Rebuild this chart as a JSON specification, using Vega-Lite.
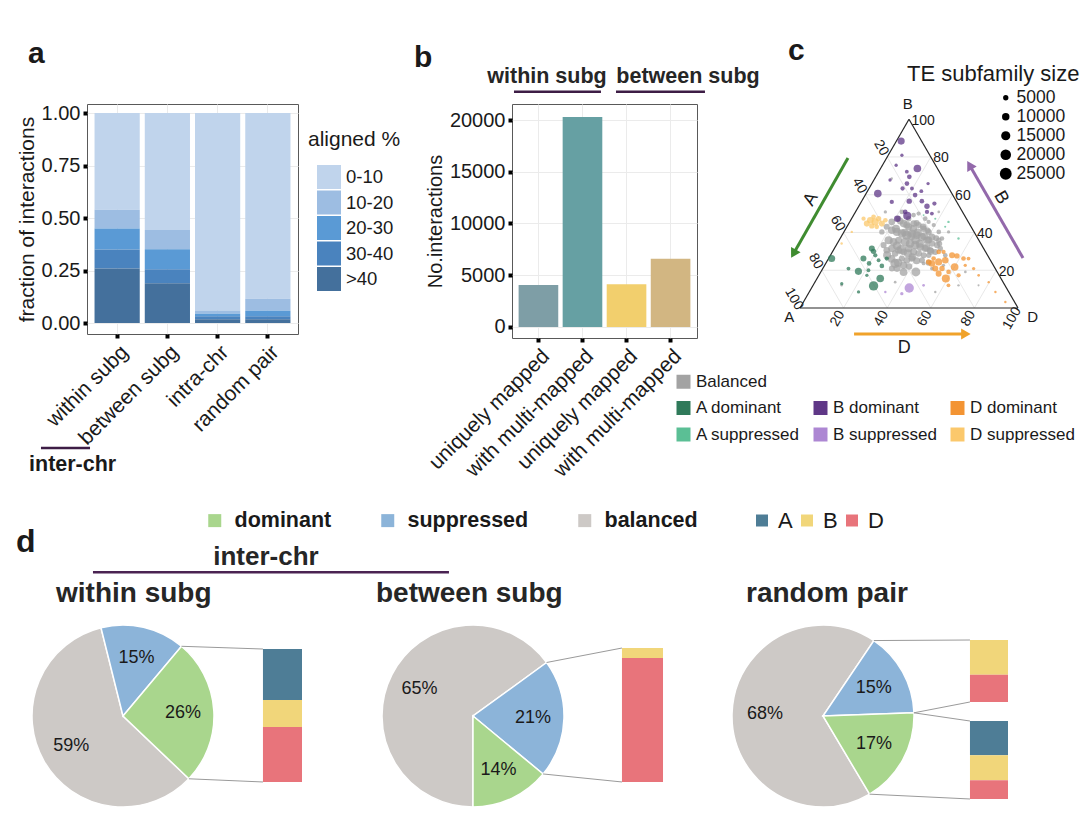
{
 "$schema": "https://vega.github.io/schema/vega-lite/v6.json",
 "background": "#ffffff",
 "padding": {"left": 15, "top": 35, "right": 2, "bottom": 2},
 "config": {
  "font": "Liberation Sans",
  "view": {"stroke": null},
  "axis": {"labelFont": "Liberation Sans", "titleFont": "Liberation Sans", "labelColor": "#1a1a1a", "titleColor": "#1a1a1a"},
  "legend": {"labelFont": "Liberation Sans", "titleFont": "Liberation Sans", "labelColor": "#1a1a1a", "titleColor": "#1a1a1a"},
  "text": {"font": "Liberation Sans", "color": "#1a1a1a"}
 },
 "columns": 1,
 "align": "none",
 "spacing": 28,
 "resolve": {"scale": {"color": "independent", "size": "independent", "theta": "independent"}, "legend": {"color": "independent", "size": "independent"}},
 "concat": [
  {
   "spacing": 0,
   "bounds": "flush",
   "resolve": {"scale": {"color": "independent", "size": "independent", "theta": "independent"}, "legend": {"color": "independent", "size": "independent"}},
   "hconcat": [
    {
     "width": 55, "height": 10,
     "data": {"values": []},
     "mark": {"type": "point"},
     "encoding": {}
    },
    {
     "width": 211, "height": 230,
     "view": {"stroke": "#595959", "strokeWidth": 1},
     "resolve": {"scale": {"x": "independent"}},
     "layer": [
      {
       "data": {"values": [
        {"group": "within subg", "aligned": "0-10", "frac": 0.46},
        {"group": "within subg", "aligned": "10-20", "frac": 0.09},
        {"group": "within subg", "aligned": "20-30", "frac": 0.10},
        {"group": "within subg", "aligned": "30-40", "frac": 0.09},
        {"group": "within subg", "aligned": ">40", "frac": 0.26},
        {"group": "between subg", "aligned": "0-10", "frac": 0.557},
        {"group": "between subg", "aligned": "10-20", "frac": 0.092},
        {"group": "between subg", "aligned": "20-30", "frac": 0.095},
        {"group": "between subg", "aligned": "30-40", "frac": 0.066},
        {"group": "between subg", "aligned": ">40", "frac": 0.19},
        {"group": "intra-chr", "aligned": "0-10", "frac": 0.94},
        {"group": "intra-chr", "aligned": "10-20", "frac": 0.016},
        {"group": "intra-chr", "aligned": "20-30", "frac": 0.012},
        {"group": "intra-chr", "aligned": "30-40", "frac": 0.014},
        {"group": "intra-chr", "aligned": ">40", "frac": 0.018},
        {"group": "random pair", "aligned": "0-10", "frac": 0.884},
        {"group": "random pair", "aligned": "10-20", "frac": 0.057},
        {"group": "random pair", "aligned": "20-30", "frac": 0.027},
        {"group": "random pair", "aligned": "30-40", "frac": 0.014},
        {"group": "random pair", "aligned": ">40", "frac": 0.018}
       ]},
       "mark": {"type": "bar"},
       "encoding": {
        "x": {"field": "group", "type": "nominal", "sort": ["within subg", "between subg", "intra-chr", "random pair"],
              "scale": {"paddingInner": 0.1, "paddingOuter": 0.15},
              "axis": {"title": null, "labelAngle": -45, "labelAlign": "right", "labelBaseline": "top", "labelFontSize": 21, "labelPadding": 3, "labelLimit": 300,
                       "tickColor": "#000000", "tickWidth": 4, "tickSize": 4, "domain": false, "grid": true, "gridColor": "#ebebeb", "gridWidth": 1, "bandPosition": 0.5}},
        "y": {"field": "frac", "type": "quantitative", "stack": "zero",
              "scale": {"domain": [-0.052, 1.043], "nice": false, "zero": false},
              "axis": {"title": "fraction of interactions", "titleFontSize": 21, "titleFontWeight": "normal", "titlePadding": 4,
                       "labelFontSize": 20, "labelPadding": 3, "tickColor": "#000000", "tickWidth": 4, "tickSize": 4, "domain": false,
                       "grid": true, "gridColor": "#ebebeb",
                       "values": [0, 0.125, 0.25, 0.375, 0.5, 0.625, 0.75, 0.875, 1],
                       "labelExpr": "indexof([0,0.25,0.5,0.75,1], datum.value) >= 0 ? format(datum.value, '.2f') : ''",
                       "tickOpacity": {"condition": {"test": "indexof([0,0.25,0.5,0.75,1], datum.value) < 0", "value": 0}, "value": 1},
                       "gridWidth": {"condition": {"test": "indexof([0,0.25,0.5,0.75,1], datum.value) < 0", "value": 0.6}, "value": 1.1}}},
        "color": {"field": "aligned", "type": "nominal",
                  "scale": {"domain": ["0-10", "10-20", "20-30", "30-40", ">40"], "range": ["#c0d4ec", "#9dbde2", "#5a9ad5", "#4a83be", "#44709c"]},
                  "legend": {"orient": "none", "legendX": 221, "legendY": 25, "title": "aligned %", "titleFontSize": 21, "titleFontWeight": "normal", "titlePadding": 15,
                             "symbolType": "square", "symbolSize": 576, "symbolStrokeWidth": 0, "symbolOffset": 9, "labelFontSize": 18.5, "labelOffset": 5, "rowPadding": 1.5}},
        "order": {"field": "aligned", "sort": "descending"}
       }
      },
      {
       "data": {"values": [{}]},
       "layer": [
        {"mark": {"type": "text", "text": "a", "fontSize": 30, "fontWeight": "bold", "align": "left", "baseline": "alphabetic"},
         "encoding": {"x": {"datum": -0.774, "type": "quantitative", "scale": {"domain": [0.4, 4.6], "nice": false, "zero": false}, "axis": null},
                      "y": {"datum": 1.238, "type": "quantitative"}}},
        {"mark": {"type": "text", "text": "inter-chr", "fontSize": 21.5, "fontWeight": "bold", "align": "left", "baseline": "alphabetic"},
         "encoding": {"x": {"datum": -0.754, "type": "quantitative", "scale": {"domain": [0.4, 4.6], "nice": false, "zero": false}, "axis": null},
                      "y": {"datum": -0.705, "type": "quantitative"}}},
        {"mark": {"type": "rule", "color": "#3d1d45", "strokeWidth": 2.5},
         "encoding": {"x": {"datum": -0.516, "type": "quantitative", "scale": {"domain": [0.4, 4.6], "nice": false, "zero": false}, "axis": null},
                      "x2": {"datum": 0.46},
                      "y": {"datum": -0.595, "type": "quantitative"}}}
       ]
      }
     ]
    },
    {
     "width": 214, "height": 10,
     "data": {"values": []},
     "mark": {"type": "point"},
     "encoding": {}
    },
    {
     "width": 185, "height": 234,
     "view": {"stroke": "#595959", "strokeWidth": 1},
     "resolve": {"scale": {"x": "independent"}},
     "layer": [
      {
       "data": {"values": [
        {"cat": "within|uniquely mapped", "n": 4060},
        {"cat": "within|with multi-mapped", "n": 20290},
        {"cat": "between|uniquely mapped", "n": 4130},
        {"cat": "between|with multi-mapped", "n": 6600}
       ]},
       "mark": {"type": "bar"},
       "encoding": {
        "x": {"field": "cat", "type": "nominal", "sort": null,
              "scale": {"paddingInner": 0.1, "paddingOuter": 0.15},
              "axis": {"title": null, "labelExpr": "split(datum.value, '|')[1]", "labelAngle": -45, "labelAlign": "right", "labelBaseline": "top", "labelFontSize": 21, "labelPadding": 3, "labelLimit": 300,
                       "tickColor": "#000000", "tickWidth": 4, "tickSize": 4, "domain": false, "grid": true, "gridColor": "#ebebeb", "gridWidth": 1, "bandPosition": 0.5}},
        "y": {"field": "n", "type": "quantitative",
              "scale": {"domain": [-1063, 21546], "nice": false, "zero": false},
              "axis": {"title": "No.interactions", "titleFontSize": 20, "titleFontWeight": "normal", "titlePadding": 4,
                       "labelFontSize": 20, "labelPadding": 3, "tickColor": "#000000", "tickWidth": 4, "tickSize": 4, "domain": false,
                       "grid": true, "gridColor": "#ebebeb",
                       "values": [0, 2500, 5000, 7500, 10000, 12500, 15000, 17500, 20000],
                       "labelExpr": "datum.value % 5000 == 0 ? format(datum.value, 'd') : ''",
                       "tickOpacity": {"condition": {"test": "datum.value % 5000 != 0", "value": 0}, "value": 1},
                       "gridWidth": {"condition": {"test": "datum.value % 5000 != 0", "value": 0.6}, "value": 1.1}}},
        "color": {"field": "cat", "type": "nominal", "sort": null,
                  "scale": {"domain": ["within|uniquely mapped", "within|with multi-mapped", "between|uniquely mapped", "between|with multi-mapped"],
                            "range": ["#7e9ea6", "#66a0a3", "#f2cf6d", "#d2b682"]},
                  "legend": null}
       }
      },
      {
       "data": {"values": [{}]},
       "layer": [
        {"mark": {"type": "text", "text": "b", "fontSize": 30, "fontWeight": "bold", "align": "left", "baseline": "alphabetic"},
         "encoding": {"x": {"datum": -1.825, "type": "quantitative", "scale": {"domain": [0.4, 4.6], "nice": false, "zero": false}, "axis": null},
                      "y": {"datum": 25121, "type": "quantitative"}}},
        {"mark": {"type": "text", "text": "within subg", "fontSize": 21.5, "fontWeight": "bold", "align": "center", "baseline": "alphabetic", "color": "#262626"},
         "encoding": {"x": {"datum": 1.195, "type": "quantitative", "scale": {"domain": [0.4, 4.6], "nice": false, "zero": false}, "axis": null},
                      "y": {"datum": 23575, "type": "quantitative"}}},
        {"mark": {"type": "text", "text": "between subg", "fontSize": 21.5, "fontWeight": "bold", "align": "center", "baseline": "alphabetic", "color": "#262626"},
         "encoding": {"x": {"datum": 4.395, "type": "quantitative", "scale": {"domain": [0.4, 4.6], "nice": false, "zero": false}, "axis": null},
                      "y": {"datum": 23575, "type": "quantitative"}}},
        {"mark": {"type": "rule", "color": "#3d1d45", "strokeWidth": 2.5},
         "encoding": {"x": {"datum": 0.445, "type": "quantitative", "scale": {"domain": [0.4, 4.6], "nice": false, "zero": false}, "axis": null},
                      "x2": {"datum": 2.42},
                      "y": {"datum": 22734, "type": "quantitative"}}},
        {"mark": {"type": "rule", "color": "#3d1d45", "strokeWidth": 2.5},
         "encoding": {"x": {"datum": 2.761, "type": "quantitative", "scale": {"domain": [0.4, 4.6], "nice": false, "zero": false}, "axis": null},
                      "x2": {"datum": 4.781},
                      "y": {"datum": 22734, "type": "quantitative"}}}
       ]
      }
     ]
    },
    {
     "width": 103, "height": 10,
     "data": {"values": []},
     "mark": {"type": "point"},
     "encoding": {}
    },
    {
     "width": 218, "height": 204,
     "data": {"values": [{}]},
     "layer": [
      {
       "data": {"values": [
        {"axis": "A", "v": 20}, {"axis": "A", "v": 40}, {"axis": "A", "v": 60}, {"axis": "A", "v": 80},
        {"axis": "B", "v": 20}, {"axis": "B", "v": 40}, {"axis": "B", "v": 60}, {"axis": "B", "v": 80},
        {"axis": "D", "v": 20}, {"axis": "D", "v": 40}, {"axis": "D", "v": 60}, {"axis": "D", "v": 80}
       ]},
       "transform": [
        {"calculate": "datum.axis == 'B' ? datum.v / 2 : (datum.axis == 'D' ? datum.v : 100 - datum.v)", "as": "xa"},
        {"calculate": "datum.axis == 'B' ? datum.v * sqrt(3) / 2 : 0", "as": "ya"},
        {"calculate": "datum.axis == 'B' ? 100 - datum.v / 2 : (datum.axis == 'D' ? (100 + datum.v) / 2 : (100 - datum.v) / 2)", "as": "xb"},
        {"calculate": "datum.axis == 'B' ? datum.v * sqrt(3) / 2 : (100 - datum.v) * sqrt(3) / 2", "as": "yb"}
       ],
       "mark": {"type": "rule", "color": "#e2e2e2", "strokeWidth": 0.8},
       "encoding": {
        "x": {"field": "xa", "type": "quantitative", "scale": {"domain": [0, 100], "nice": false, "zero": false}, "axis": null},
        "y": {"field": "ya", "type": "quantitative", "scale": {"domain": [0, 93.58], "nice": false, "zero": false}, "axis": null},
        "x2": {"field": "xb"},
        "y2": {"field": "yb"}
       }
      },
      {
       "data": {"values": [{"axis": "A", "v": 0}, {"axis": "B", "v": 0}, {"axis": "D", "v": 0}]},
       "transform": [
        {"calculate": "datum.axis == 'B' ? datum.v / 2 : (datum.axis == 'D' ? datum.v : 100 - datum.v)", "as": "xa"},
        {"calculate": "datum.axis == 'B' ? datum.v * sqrt(3) / 2 : 0", "as": "ya"},
        {"calculate": "datum.axis == 'B' ? 100 - datum.v / 2 : (datum.axis == 'D' ? (100 + datum.v) / 2 : (100 - datum.v) / 2)", "as": "xb"},
        {"calculate": "datum.axis == 'B' ? datum.v * sqrt(3) / 2 : (100 - datum.v) * sqrt(3) / 2", "as": "yb"}
       ],
       "mark": {"type": "rule", "color": "#262626", "strokeWidth": 1.2},
       "encoding": {
        "x": {"field": "xa", "type": "quantitative", "axis": null},
        "y": {"field": "ya", "type": "quantitative", "axis": null},
        "x2": {"field": "xb"},
        "y2": {"field": "yb"}
       }
      },
      {
       "data": {"values": [
        {"cls": "Balanced", "B": 45.6, "D": 19.3, "size": 7800},
        {"cls": "Balanced", "B": 47.3, "D": 21.5, "size": 6500},
        {"cls": "Balanced", "B": 44.7, "D": 25.2, "size": 10400},
        {"cls": "Balanced", "B": 43.0, "D": 28.3, "size": 9100},
        {"cls": "Balanced", "B": 44.7, "D": 29.8, "size": 7800},
        {"cls": "Balanced", "B": 43.9, "D": 32.5, "size": 6500},
        {"cls": "Balanced", "B": 42.0, "D": 35.7, "size": 7800},
        {"cls": "Balanced", "B": 40.3, "D": 38.9, "size": 6500},
        {"cls": "Balanced", "B": 37.6, "D": 41.7, "size": 9100},
        {"cls": "Balanced", "B": 41.2, "D": 21.5, "size": 10400},
        {"cls": "Balanced", "B": 40.3, "D": 24.3, "size": 11700},
        {"cls": "Balanced", "B": 39.5, "D": 27.0, "size": 13000},
        {"cls": "Balanced", "B": 38.6, "D": 29.7, "size": 15600},
        {"cls": "Balanced", "B": 39.5, "D": 31.6, "size": 11700},
        {"cls": "Balanced", "B": 38.6, "D": 34.3, "size": 10400},
        {"cls": "Balanced", "B": 37.6, "D": 37.1, "size": 11700},
        {"cls": "Balanced", "B": 35.9, "D": 40.3, "size": 10400},
        {"cls": "Balanced", "B": 34.2, "D": 43.4, "size": 7800},
        {"cls": "Balanced", "B": 33.3, "D": 46.2, "size": 6500},
        {"cls": "Balanced", "B": 35.9, "D": 22.7, "size": 11700},
        {"cls": "Balanced", "B": 35.0, "D": 25.4, "size": 10400},
        {"cls": "Balanced", "B": 35.9, "D": 27.3, "size": 9100},
        {"cls": "Balanced", "B": 35.0, "D": 30.7, "size": 14300},
        {"cls": "Balanced", "B": 34.2, "D": 33.4, "size": 13000},
        {"cls": "Balanced", "B": 33.3, "D": 36.2, "size": 11700},
        {"cls": "Balanced", "B": 32.3, "D": 39.0, "size": 10400},
        {"cls": "Balanced", "B": 31.5, "D": 41.7, "size": 9100},
        {"cls": "Balanced", "B": 30.6, "D": 44.4, "size": 7800},
        {"cls": "Balanced", "B": 29.7, "D": 47.2, "size": 6500},
        {"cls": "Balanced", "B": 31.5, "D": 48.6, "size": 5200},
        {"cls": "Balanced", "B": 31.5, "D": 26.4, "size": 10400},
        {"cls": "Balanced", "B": 30.6, "D": 29.9, "size": 9100},
        {"cls": "Balanced", "B": 29.7, "D": 32.7, "size": 7800},
        {"cls": "Balanced", "B": 31.5, "D": 34.1, "size": 10400},
        {"cls": "Balanced", "B": 29.7, "D": 37.3, "size": 9100},
        {"cls": "Balanced", "B": 28.9, "D": 40.0, "size": 7800},
        {"cls": "Balanced", "B": 27.9, "D": 42.8, "size": 6500},
        {"cls": "Balanced", "B": 27.9, "D": 45.1, "size": 5200},
        {"cls": "Balanced", "B": 23.6, "D": 31.8, "size": 15600},
        {"cls": "Balanced", "B": 22.6, "D": 36.2, "size": 10400},
        {"cls": "Balanced", "B": 19.1, "D": 43.6, "size": 14300},
        {"cls": "Balanced", "B": 20.9, "D": 31.7, "size": 6500},
        {"cls": "Balanced", "B": 25.3, "D": 36.4, "size": 7800},
        {"cls": "Balanced", "B": 30.6, "D": 24.5, "size": 7800},
        {"cls": "Balanced", "B": 33.3, "D": 21.7, "size": 6500},
        {"cls": "Balanced", "B": 40.3, "D": 17.4, "size": 5200},
        {"cls": "Balanced", "B": 43.0, "D": 18.3, "size": 6500},
        {"cls": "Balanced", "B": 50.9, "D": 21.3, "size": 3900},
        {"cls": "Balanced", "B": 47.3, "D": 26.2, "size": 5200},
        {"cls": "Balanced", "B": 27.9, "D": 52.7, "size": 3900},
        {"cls": "Balanced", "B": 36.8, "D": 46.7, "size": 3900},
        {"cls": "Balanced", "B": 40.3, "D": 43.5, "size": 3900},
        {"cls": "Balanced", "B": 43.9, "D": 39.4, "size": 3250},
        {"cls": "Balanced", "B": 45.6, "D": 36.2, "size": 3250},
        {"cls": "Balanced", "B": 47.3, "D": 33.8, "size": 3900},
        {"cls": "Balanced", "B": 50.0, "D": 29.4, "size": 3250},
        {"cls": "Balanced", "B": 49.2, "D": 27.5, "size": 3900},
        {"cls": "Balanced", "B": 22.6, "D": 54.5, "size": 1950},
        {"cls": "Balanced", "B": 23.6, "D": 44.9, "size": 2600},
        {"cls": "Balanced", "B": 20.9, "D": 50.1, "size": 2600},
        {"cls": "Balanced", "B": 12.0, "D": 13.1, "size": 1040},
        {"cls": "Balanced", "B": 13.7, "D": 36.8, "size": 1300},
        {"cls": "Balanced", "B": 8.5, "D": 57.8, "size": 1040},
        {"cls": "Balanced", "B": 12.0, "D": 66.7, "size": 1040},
        {"cls": "Balanced", "B": 12.0, "D": 75.9, "size": 780},
        {"cls": "Balanced", "B": 19.1, "D": 66.3, "size": 1300},
        {"cls": "Balanced", "B": 40.3, "D": 48.0, "size": 1950},
        {"cls": "Balanced", "B": 50.9, "D": 38.2, "size": 1300},
        {"cls": "Balanced", "B": 68.6, "D": 7.8, "size": 1040},
        {"cls": "Balanced", "B": 50.9, "D": 13.7, "size": 1950},
        {"cls": "Balanced", "B": 26.2, "D": 38.2, "size": 7800},
        {"cls": "Balanced", "B": 26.2, "D": 33.6, "size": 6500},
        {"cls": "Balanced", "B": 25.3, "D": 43.3, "size": 6500},
        {"cls": "Balanced", "B": 28.9, "D": 29.2, "size": 7800},
        {"cls": "Balanced", "B": 35.9, "D": 45.7, "size": 5200},
        {"cls": "Balanced", "B": 42.0, "D": 23.0, "size": 11700},
        {"cls": "Balanced", "B": 40.0, "D": 28.0, "size": 10400},
        {"cls": "Balanced", "B": 38.0, "D": 32.0, "size": 11700},
        {"cls": "Balanced", "B": 36.0, "D": 35.0, "size": 13000},
        {"cls": "Balanced", "B": 34.0, "D": 38.0, "size": 11700},
        {"cls": "Balanced", "B": 32.0, "D": 42.0, "size": 10400},
        {"cls": "Balanced", "B": 30.0, "D": 45.0, "size": 9100},
        {"cls": "Balanced", "B": 44.0, "D": 27.0, "size": 9100},
        {"cls": "Balanced", "B": 42.0, "D": 31.0, "size": 10400},
        {"cls": "Balanced", "B": 40.0, "D": 34.0, "size": 11700},
        {"cls": "Balanced", "B": 38.0, "D": 38.0, "size": 10400},
        {"cls": "Balanced", "B": 36.0, "D": 41.0, "size": 9100},
        {"cls": "Balanced", "B": 33.0, "D": 28.0, "size": 13000},
        {"cls": "Balanced", "B": 31.0, "D": 31.0, "size": 14300},
        {"cls": "Balanced", "B": 29.0, "D": 35.0, "size": 11700},
        {"cls": "Balanced", "B": 27.0, "D": 38.0, "size": 10400},
        {"cls": "Balanced", "B": 25.0, "D": 41.0, "size": 9100},
        {"cls": "Balanced", "B": 28.0, "D": 26.0, "size": 11700},
        {"cls": "Balanced", "B": 26.0, "D": 29.0, "size": 10400},
        {"cls": "Balanced", "B": 24.0, "D": 33.0, "size": 11700},
        {"cls": "Balanced", "B": 22.0, "D": 39.0, "size": 7800},
        {"cls": "Balanced", "B": 21.0, "D": 34.0, "size": 9100},
        {"cls": "Balanced", "B": 46.0, "D": 23.0, "size": 7800},
        {"cls": "Balanced", "B": 45.0, "D": 31.0, "size": 6500},
        {"cls": "Balanced", "B": 43.0, "D": 35.0, "size": 7800},
        {"cls": "Balanced", "B": 41.0, "D": 38.0, "size": 6500},
        {"cls": "Balanced", "B": 37.0, "D": 44.0, "size": 6500},
        {"cls": "Balanced", "B": 34.0, "D": 47.0, "size": 5200},
        {"cls": "Balanced", "B": 24.0, "D": 47.0, "size": 6500},
        {"cls": "Balanced", "B": 19.0, "D": 38.0, "size": 10400},
        {"cls": "B dominant", "B": 88.4, "D": 2.2, "size": 9100},
        {"cls": "B dominant", "B": 73.9, "D": 16.9, "size": 10400},
        {"cls": "B dominant", "B": 60.6, "D": 5.4, "size": 10400},
        {"cls": "B dominant", "B": 48.8, "D": 24.8, "size": 11700},
        {"cls": "B dominant", "B": 47.3, "D": 21.0, "size": 7800},
        {"cls": "B dominant", "B": 53.9, "D": 31.3, "size": 5200},
        {"cls": "B dominant", "B": 69.5, "D": 15.4, "size": 3900},
        {"cls": "B dominant", "B": 65.9, "D": 16.1, "size": 3900},
        {"cls": "B dominant", "B": 63.3, "D": 15.4, "size": 3250},
        {"cls": "B dominant", "B": 59.8, "D": 22.9, "size": 3900},
        {"cls": "B dominant", "B": 56.6, "D": 21.8, "size": 5200},
        {"cls": "B dominant", "B": 56.6, "D": 27.6, "size": 3900},
        {"cls": "B dominant", "B": 55.3, "D": 34.0, "size": 3250},
        {"cls": "B dominant", "B": 75.6, "D": 6.3, "size": 1950},
        {"cls": "B dominant", "B": 72.2, "D": 12.9, "size": 2600},
        {"cls": "B dominant", "B": 63.3, "D": 19.7, "size": 2600},
        {"cls": "B dominant", "B": 56.2, "D": 14.0, "size": 3250},
        {"cls": "B dominant", "B": 50.9, "D": 22.8, "size": 3900},
        {"cls": "B dominant", "B": 50.9, "D": 32.8, "size": 3250},
        {"cls": "B dominant", "B": 50.0, "D": 35.5, "size": 2600},
        {"cls": "B dominant", "B": 61.9, "D": 24.7, "size": 2600},
        {"cls": "B dominant", "B": 65.9, "D": 25.8, "size": 1950},
        {"cls": "B dominant", "B": 80.9, "D": 6.3, "size": 1950},
        {"cls": "B dominant", "B": 67.8, "D": 7.4, "size": 1950},
        {"cls": "B suppressed", "B": 10.6, "D": 44.8, "size": 15600},
        {"cls": "B suppressed", "B": 7.6, "D": 42.9, "size": 1950},
        {"cls": "B suppressed", "B": 12.0, "D": 50.7, "size": 1300},
        {"cls": "B suppressed", "B": 8.5, "D": 34.9, "size": 1040},
        {"cls": "A dominant", "B": 26.2, "D": 1.4, "size": 9100},
        {"cls": "A dominant", "B": 19.4, "D": 17.1, "size": 9100},
        {"cls": "A dominant", "B": 11.7, "D": 27.9, "size": 15600},
        {"cls": "A dominant", "B": 15.6, "D": 29.0, "size": 10400},
        {"cls": "A dominant", "B": 26.2, "D": 16.0, "size": 6500},
        {"cls": "A dominant", "B": 31.5, "D": 17.2, "size": 6500},
        {"cls": "A dominant", "B": 30.0, "D": 18.7, "size": 5200},
        {"cls": "A dominant", "B": 23.6, "D": 19.9, "size": 3900},
        {"cls": "A dominant", "B": 22.3, "D": 26.4, "size": 3900},
        {"cls": "A dominant", "B": 26.2, "D": 26.7, "size": 3250},
        {"cls": "A dominant", "B": 27.9, "D": 20.6, "size": 3250},
        {"cls": "A dominant", "B": 20.9, "D": 11.8, "size": 2600},
        {"cls": "A dominant", "B": 12.9, "D": 12.7, "size": 1950},
        {"cls": "A dominant", "B": 8.5, "D": 22.6, "size": 1950},
        {"cls": "A dominant", "B": 20.0, "D": 21.4, "size": 2600},
        {"cls": "A dominant", "B": 25.3, "D": 23.4, "size": 2600},
        {"cls": "A dominant", "B": 17.3, "D": 22.0, "size": 1950},
        {"cls": "A suppressed", "B": 45.6, "D": 45.3, "size": 1040},
        {"cls": "A suppressed", "B": 43.0, "D": 45.1, "size": 780},
        {"cls": "A suppressed", "B": 36.8, "D": 54.3, "size": 1040},
        {"cls": "A suppressed", "B": 47.3, "D": 38.4, "size": 780},
        {"cls": "A suppressed", "B": 49.2, "D": 32.1, "size": 650},
        {"cls": "D dominant", "B": 23.6, "D": 48.7, "size": 7800},
        {"cls": "D dominant", "B": 24.4, "D": 51.4, "size": 9100},
        {"cls": "D dominant", "B": 25.3, "D": 54.0, "size": 7800},
        {"cls": "D dominant", "B": 21.7, "D": 60.1, "size": 10400},
        {"cls": "D dominant", "B": 15.6, "D": 59.1, "size": 11700},
        {"cls": "D dominant", "B": 18.2, "D": 54.5, "size": 6500},
        {"cls": "D dominant", "B": 27.9, "D": 55.8, "size": 6500},
        {"cls": "D dominant", "B": 27.6, "D": 58.2, "size": 5200},
        {"cls": "D dominant", "B": 26.2, "D": 61.9, "size": 3900},
        {"cls": "D dominant", "B": 20.9, "D": 51.6, "size": 6500},
        {"cls": "D dominant", "B": 24.4, "D": 46.8, "size": 5200},
        {"cls": "D dominant", "B": 20.9, "D": 54.7, "size": 5200},
        {"cls": "D dominant", "B": 19.1, "D": 58.6, "size": 3900},
        {"cls": "D dominant", "B": 17.3, "D": 64.1, "size": 3250},
        {"cls": "D dominant", "B": 26.2, "D": 64.2, "size": 2600},
        {"cls": "D dominant", "B": 22.6, "D": 64.5, "size": 1950},
        {"cls": "D dominant", "B": 20.9, "D": 69.2, "size": 1950},
        {"cls": "D dominant", "B": 17.3, "D": 73.3, "size": 1300},
        {"cls": "D dominant", "B": 13.7, "D": 79.7, "size": 1040},
        {"cls": "D dominant", "B": 8.5, "D": 85.4, "size": 1040},
        {"cls": "D dominant", "B": 3.2, "D": 92.6, "size": 1040},
        {"cls": "D dominant", "B": 12.0, "D": 62.1, "size": 2600},
        {"cls": "D dominant", "B": 29.7, "D": 48.8, "size": 3900},
        {"cls": "D dominant", "B": 29.7, "D": 51.0, "size": 3250},
        {"cls": "D dominant", "B": 26.2, "D": 48.2, "size": 3900},
        {"cls": "D suppressed", "B": 46.5, "D": 9.0, "size": 7800},
        {"cls": "D suppressed", "B": 45.6, "D": 11.7, "size": 9100},
        {"cls": "D suppressed", "B": 44.7, "D": 15.2, "size": 6500},
        {"cls": "D suppressed", "B": 44.7, "D": 8.3, "size": 6500},
        {"cls": "D suppressed", "B": 43.5, "D": 11.2, "size": 5200},
        {"cls": "D suppressed", "B": 47.3, "D": 12.4, "size": 5200},
        {"cls": "D suppressed", "B": 43.0, "D": 13.7, "size": 3900},
        {"cls": "D suppressed", "B": 46.5, "D": 15.9, "size": 3900},
        {"cls": "D suppressed", "B": 47.3, "D": 5.5, "size": 3250},
        {"cls": "D suppressed", "B": 48.3, "D": 9.6, "size": 3900},
        {"cls": "D suppressed", "B": 34.2, "D": 2.0, "size": 1040},
        {"cls": "D suppressed", "B": 40.3, "D": 3.6, "size": 1040}
       ]},
       "transform": [
        {"calculate": "datum.D + datum.B / 2", "as": "tx"},
        {"calculate": "datum.B * sqrt(3) / 2", "as": "ty"}
       ],
       "mark": {"type": "point", "filled": true, "opacity": 0.75, "strokeWidth": 0},
       "encoding": {
        "x": {"field": "tx", "type": "quantitative", "axis": null},
        "y": {"field": "ty", "type": "quantitative", "axis": null},
        "size": {"field": "size", "type": "quantitative", "scale": {"domain": [0, 25000], "range": [0, 140]},
                 "legend": {"orient": "none", "legendX": 197, "legendY": -15, "title": null, "values": [5000, 10000, 15000, 20000, 25000], "format": "d",
                            "symbolType": "circle", "symbolFillColor": "#000000", "symbolStrokeColor": "#000000", "symbolStrokeWidth": 0, "symbolOpacity": 1,
                            "labelFontSize": 17.5, "labelOffset": 2, "rowPadding": 0}},
        "color": {"field": "cls", "type": "nominal",
                  "scale": {"domain": ["Balanced", "A dominant", "A suppressed", " ", "B dominant", "B suppressed", "  ", "D dominant", "D suppressed"],
                            "range": ["#a3a3a3", "#2f7a5a", "#5bbf95", "rgba(0,0,0,0)", "#5f3787", "#ad87d3", "rgba(0,0,0,0)", "#f39433", "#fbc86c"]},
                  "legend": {"orient": "none", "legendX": -125, "legendY": 269, "title": null, "columns": 3, "symbolType": "square", "symbolSize": 196,
                             "symbolStrokeWidth": 0, "symbolOpacity": 1, "labelFontSize": 17, "labelOffset": 4, "rowPadding": 8.5, "columnPadding": 12, "labelLimit": 300}}
       }
      },
      {
       "data": {"values": [{"v": 20}, {"v": 40}, {"v": 60}, {"v": 80}, {"v": 100}]},
       "transform": [{"calculate": "(100 - datum.v) / 2", "as": "lx"}, {"calculate": "(100 - datum.v) * sqrt(3) / 2", "as": "ly"}],
       "mark": {"type": "text", "fontSize": 14, "angle": 60, "dx": -10.8, "dy": 0.7, "align": "center", "baseline": "middle"},
       "encoding": {"x": {"field": "lx", "type": "quantitative", "axis": null}, "y": {"field": "ly", "type": "quantitative", "axis": null}, "text": {"field": "v", "type": "quantitative"}}
      },
      {
       "data": {"values": [{"v": 20}, {"v": 40}, {"v": 60}, {"v": 80}, {"v": 100}]},
       "transform": [{"calculate": "100 - datum.v / 2", "as": "lx"}, {"calculate": "datum.v * sqrt(3) / 2", "as": "ly"}],
       "mark": {"type": "text", "fontSize": 14, "dx": 2.5, "dy": 1.5, "align": "left", "baseline": "middle"},
       "encoding": {"x": {"field": "lx", "type": "quantitative", "axis": null}, "y": {"field": "ly", "type": "quantitative", "axis": null}, "text": {"field": "v", "type": "quantitative"}}
      },
      {
       "data": {"values": [{"v": 20}, {"v": 40}, {"v": 60}, {"v": 80}, {"v": 100}]},
       "transform": [{"calculate": "datum.v", "as": "lx"}, {"calculate": "0", "as": "ly"}],
       "mark": {"type": "text", "fontSize": 14, "angle": -60, "dx": -12, "dy": 0, "align": "center", "baseline": "middle"},
       "encoding": {"x": {"field": "lx", "type": "quantitative", "axis": null}, "y": {"field": "ly", "type": "quantitative", "axis": null}, "text": {"field": "v", "type": "quantitative"}}
      },
      {"mark": {"type": "text", "text": "A", "fontSize": 15, "align": "center", "baseline": "middle"},
       "encoding": {"x": {"datum": -4.9, "type": "quantitative"}, "y": {"datum": -4.0, "type": "quantitative"}}},
      {"mark": {"type": "text", "text": "D", "fontSize": 15, "align": "center", "baseline": "middle"},
       "encoding": {"x": {"datum": 106.7, "type": "quantitative"}, "y": {"datum": -4.0, "type": "quantitative"}}},
      {"mark": {"type": "text", "text": "B", "fontSize": 15, "align": "center", "baseline": "middle"},
       "encoding": {"x": {"datum": 49.4, "type": "quantitative"}, "y": {"datum": 93.4, "type": "quantitative"}}},
      {"mark": {"type": "rule", "color": "#3f8c30", "strokeWidth": 3},
       "encoding": {"x": {"datum": 22.0, "type": "quantitative"}, "y": {"datum": 68.8, "type": "quantitative"}, "x2": {"datum": -3.0}, "y2": {"datum": 24.9}}},
      {"mark": {"type": "point", "shape": "triangle-up", "size": 120, "angle": 209.7, "filled": true, "color": "#3f8c30", "opacity": 1},
       "encoding": {"x": {"datum": -3.0, "type": "quantitative"}, "y": {"datum": 24.9, "type": "quantitative"}}},
      {"mark": {"type": "rule", "color": "#9369ab", "strokeWidth": 3},
       "encoding": {"x": {"datum": 102.3, "type": "quantitative"}, "y": {"datum": 22.9, "type": "quantitative"}, "x2": {"datum": 77.8}, "y2": {"datum": 65.5}}},
      {"mark": {"type": "point", "shape": "triangle-up", "size": 120, "angle": 330, "filled": true, "color": "#9369ab", "opacity": 1},
       "encoding": {"x": {"datum": 77.8, "type": "quantitative"}, "y": {"datum": 65.5, "type": "quantitative"}}},
      {"mark": {"type": "rule", "color": "#f0a22a", "strokeWidth": 3},
       "encoding": {"x": {"datum": 24.8, "type": "quantitative"}, "y": {"datum": -11.9, "type": "quantitative"}, "x2": {"datum": 76.1}, "y2": {"datum": -11.9}}},
      {"mark": {"type": "point", "shape": "triangle-up", "size": 120, "angle": 90, "filled": true, "color": "#f0a22a", "opacity": 1},
       "encoding": {"x": {"datum": 76.1, "type": "quantitative"}, "y": {"datum": -11.9, "type": "quantitative"}}},
      {"mark": {"type": "text", "text": "A", "fontSize": 18, "angle": -60, "align": "center", "baseline": "middle"},
       "encoding": {"x": {"datum": 5.0, "type": "quantitative"}, "y": {"datum": 49.9, "type": "quantitative"}}},
      {"mark": {"type": "text", "text": "B", "fontSize": 18, "angle": 60, "align": "center", "baseline": "middle"},
       "encoding": {"x": {"datum": 92.2, "type": "quantitative"}, "y": {"datum": 50.6, "type": "quantitative"}}},
      {"mark": {"type": "text", "text": "D", "fontSize": 18, "align": "center", "baseline": "middle"},
       "encoding": {"x": {"datum": 47.8, "type": "quantitative"}, "y": {"datum": -18.2, "type": "quantitative"}}},
      {"mark": {"type": "text", "text": "c", "fontSize": 30, "fontWeight": "bold", "align": "left", "baseline": "alphabetic"},
       "encoding": {"x": {"datum": -5.5, "type": "quantitative"}, "y": {"datum": 113.8, "type": "quantitative"}}},
      {"mark": {"type": "text", "text": "TE subfamily size", "fontSize": 22, "align": "left", "baseline": "alphabetic"},
       "encoding": {"x": {"datum": 49.1, "type": "quantitative"}, "y": {"datum": 104.1, "type": "quantitative"}}}
     ]
    }
   ]
  },
  {
   "spacing": 168,
   "bounds": "flush",
   "resolve": {"scale": {"color": "independent", "size": "independent", "theta": "independent"}, "legend": {"color": "independent", "size": "independent"}},
   "hconcat": [
    {
     "width": 182, "height": 182,
     "data": {"values": [{}]},
     "resolve": {"scale": {"color": "independent", "y": "independent"}},
     "layer": [
      {
       "data": {"values": [{"type": "balanced", "share": 0.59}, {"type": "suppressed", "share": 0.15}, {"type": "dominant", "share": 0.26}]},
       "encoding": {
        "theta": {"field": "share", "type": "quantitative", "stack": true, "scale": {"range": [-0.2443, 6.0389]}},
        "order": {"field": "type", "sort": "descending"}
       },
       "layer": [
        {"mark": {"type": "arc", "outerRadius": 91, "stroke": "#ffffff", "strokeWidth": 1.5},
         "encoding": {"color": {"field": "type", "type": "nominal",
                                "scale": {"domain": ["dominant", "suppressed", "balanced"], "range": ["#a9d68d", "#8cb4d9", "#cdc9c6"]},
                                "legend": {"orient": "none", "legendX": 172, "legendY": -115.5, "direction": "horizontal", "title": null, "symbolType": "square", "symbolSize": 169,
                                           "symbolStrokeWidth": 0, "labelFontSize": 21.5, "labelFontWeight": "bold", "labelOffset": 9, "columnPadding": 45, "labelLimit": 300}}}},
        {"mark": {"type": "text", "radius": 60, "fontSize": 18},
         "encoding": {"text": {"field": "share", "type": "quantitative", "format": ".0%"}}}
       ]
      },
      {
       "data": {"values": [{"part": "A", "frac": 0.383}, {"part": "B", "frac": 0.203}, {"part": "D", "frac": 0.414}]},
       "transform": [{"stack": "frac", "groupby": [], "sort": [{"field": "part", "order": "descending"}], "as": ["lo", "hi"]}],
       "mark": {"type": "rect"},
       "encoding": {
        "x": {"datum": 1.538, "type": "quantitative", "scale": {"domain": [-1, 1], "nice": false, "zero": false}, "axis": null},
        "x2": {"datum": 1.967},
        "y": {"field": "lo", "type": "quantitative", "scale": {"domain": [-0.188, 1.180], "nice": false, "zero": false}, "axis": null},
        "y2": {"field": "hi"},
        "color": {"field": "part", "type": "nominal", "scale": {"domain": ["A", "B", "D"], "range": ["#4e7d96", "#f1d67a", "#e8747b"]},
                  "legend": {"orient": "none", "legendX": 719, "legendY": -115.5, "direction": "horizontal", "title": null, "symbolType": "square", "symbolSize": 144,
                             "symbolStrokeWidth": 0, "labelFontSize": 22, "labelOffset": 5, "columnPadding": 3}}
       }
      },
      {
       "layer": [
        {"mark": {"type": "rule", "color": "#9a9a9a", "strokeWidth": 1},
         "encoding": {"x": {"datum": 0.643, "type": "quantitative", "scale": {"domain": [-1, 1], "nice": false, "zero": false}, "axis": null},
                      "y": {"datum": 0.766, "type": "quantitative", "scale": {"domain": [-1, 1], "nice": false, "zero": false}, "axis": null},
                      "x2": {"datum": 1.538}, "y2": {"datum": 0.736}}},
        {"mark": {"type": "rule", "color": "#9a9a9a", "strokeWidth": 1},
         "encoding": {"x": {"datum": 0.724, "type": "quantitative"}, "y": {"datum": -0.690, "type": "quantitative"},
                      "x2": {"datum": 1.538}, "y2": {"datum": -0.725}}},
        {"mark": {"type": "text", "text": "d", "fontSize": 32, "fontWeight": "bold", "align": "left", "baseline": "alphabetic"},
         "encoding": {"x": {"datum": -1.176, "type": "quantitative"}, "y": {"datum": 1.802, "type": "quantitative"}}},
        {"mark": {"type": "text", "text": "inter-chr", "fontSize": 26, "fontWeight": "bold", "align": "center", "baseline": "alphabetic", "color": "#262626"},
         "encoding": {"x": {"datum": 1.571, "type": "quantitative"}, "y": {"datum": 1.659, "type": "quantitative"}}},
        {"mark": {"type": "rule", "color": "#4a2352", "strokeWidth": 2.5},
         "encoding": {"x": {"datum": -0.330, "type": "quantitative"}, "x2": {"datum": 3.582}, "y": {"datum": 1.579, "type": "quantitative"}}},
        {"mark": {"type": "text", "text": "within subg", "fontSize": 28, "fontWeight": "bold", "align": "left", "baseline": "alphabetic", "color": "#262626"},
         "encoding": {"x": {"datum": -0.736, "type": "quantitative"}, "y": {"datum": 1.253, "type": "quantitative"}}}
       ]
      }
     ]
    },
    {
     "width": 182, "height": 182,
     "data": {"values": [{}]},
     "resolve": {"scale": {"color": "independent", "y": "independent"}},
     "layer": [
      {
       "data": {"values": [{"type": "balanced", "share": 0.65}, {"type": "suppressed", "share": 0.21}, {"type": "dominant", "share": 0.14}]},
       "encoding": {
        "theta": {"field": "share", "type": "quantitative", "stack": true, "scale": {"range": [0.9425, 7.2257]}},
        "order": {"field": "type", "sort": "descending"}
       },
       "layer": [
        {"mark": {"type": "arc", "outerRadius": 91, "stroke": "#ffffff", "strokeWidth": 1.5},
         "encoding": {"color": {"field": "type", "type": "nominal",
                                "scale": {"domain": ["dominant", "suppressed", "balanced"], "range": ["#a9d68d", "#8cb4d9", "#cdc9c6"]}, "legend": null}}},
        {"mark": {"type": "text", "radius": 60, "fontSize": 18},
         "encoding": {"text": {"field": "share", "type": "quantitative", "format": ".0%"}}}
       ]
      },
      {
       "data": {"values": [{"part": "B", "frac": 0.075}, {"part": "D", "frac": 0.925}]},
       "transform": [{"stack": "frac", "groupby": [], "sort": [{"field": "part", "order": "descending"}], "as": ["lo", "hi"]}],
       "mark": {"type": "rect"},
       "encoding": {
        "x": {"datum": 1.637, "type": "quantitative", "scale": {"domain": [-1, 1], "nice": false, "zero": false}, "axis": null},
        "x2": {"datum": 2.088},
        "y": {"field": "lo", "type": "quantitative", "scale": {"domain": [-0.187, 1.172], "nice": false, "zero": false}, "axis": null},
        "y2": {"field": "hi"},
        "color": {"field": "part", "type": "nominal", "scale": {"domain": ["A", "B", "D"], "range": ["#4e7d96", "#f1d67a", "#e8747b"]}, "legend": null}
       }
      },
      {
       "layer": [
        {"mark": {"type": "rule", "color": "#9a9a9a", "strokeWidth": 1},
         "encoding": {"x": {"datum": 0.809, "type": "quantitative", "scale": {"domain": [-1, 1], "nice": false, "zero": false}, "axis": null},
                      "y": {"datum": 0.588, "type": "quantitative", "scale": {"domain": [-1, 1], "nice": false, "zero": false}, "axis": null},
                      "x2": {"datum": 1.637}, "y2": {"datum": 0.747}}},
        {"mark": {"type": "rule", "color": "#9a9a9a", "strokeWidth": 1},
         "encoding": {"x": {"datum": 0.770, "type": "quantitative"}, "y": {"datum": -0.637, "type": "quantitative"},
                      "x2": {"datum": 1.637}, "y2": {"datum": -0.725}}},
        {"mark": {"type": "text", "text": "between subg", "fontSize": 28, "fontWeight": "bold", "align": "left", "baseline": "alphabetic", "color": "#262626"},
         "encoding": {"x": {"datum": -1.066, "type": "quantitative"}, "y": {"datum": 1.253, "type": "quantitative"}}}
       ]
      }
     ]
    },
    {
     "width": 182, "height": 182,
     "data": {"values": [{}]},
     "resolve": {"scale": {"color": "independent", "y": "independent"}},
     "layer": [
      {
       "data": {"values": [{"type": "balanced", "share": 0.68}, {"type": "suppressed", "share": 0.15}, {"type": "dominant", "share": 0.17}]},
       "encoding": {
        "theta": {"field": "share", "type": "quantitative", "stack": true, "scale": {"range": [0.5934, 6.8766]}},
        "order": {"field": "type", "sort": "descending"}
       },
       "layer": [
        {"mark": {"type": "arc", "outerRadius": 91, "stroke": "#ffffff", "strokeWidth": 1.5},
         "encoding": {"color": {"field": "type", "type": "nominal",
                                "scale": {"domain": ["dominant", "suppressed", "balanced"], "range": ["#a9d68d", "#8cb4d9", "#cdc9c6"]}, "legend": null}}},
        {"mark": {"type": "text", "radius": 58, "fontSize": 18},
         "encoding": {"text": {"field": "share", "type": "quantitative", "format": ".0%"}}}
       ]
      },
      {
       "data": {"values": [{"part": "B", "frac": 0.56}, {"part": "D", "frac": 0.44}]},
       "transform": [{"stack": "frac", "groupby": [], "sort": [{"field": "part", "order": "descending"}], "as": ["lo", "hi"]}],
       "mark": {"type": "rect"},
       "encoding": {
        "x": {"datum": 1.615, "type": "quantitative", "scale": {"domain": [-1, 1], "nice": false, "zero": false}, "axis": null},
        "x2": {"datum": 2.033},
        "y": {"field": "lo", "type": "quantitative", "scale": {"domain": [-1.694, 1.242], "nice": false, "zero": false}, "axis": null},
        "y2": {"field": "hi"},
        "color": {"field": "part", "type": "nominal", "scale": {"domain": ["A", "B", "D"], "range": ["#4e7d96", "#f1d67a", "#e8747b"]}, "legend": null}
       }
      },
      {
       "data": {"values": [{"part": "A", "frac": 0.44}, {"part": "B", "frac": 0.32}, {"part": "D", "frac": 0.24}]},
       "transform": [{"stack": "frac", "groupby": [], "sort": [{"field": "part", "order": "descending"}], "as": ["lo", "hi"]}],
       "mark": {"type": "rect"},
       "encoding": {
        "x": {"datum": 1.615, "type": "quantitative", "scale": {"domain": [-1, 1], "nice": false, "zero": false}, "axis": null},
        "x2": {"datum": 2.033},
        "y": {"field": "lo", "type": "quantitative", "scale": {"domain": [-0.103, 2.231], "nice": false, "zero": false}, "axis": null},
        "y2": {"field": "hi"},
        "color": {"field": "part", "type": "nominal", "scale": {"domain": ["A", "B", "D"], "range": ["#4e7d96", "#f1d67a", "#e8747b"]}, "legend": null}
       }
      },
      {
       "layer": [
        {"mark": {"type": "rule", "color": "#9a9a9a", "strokeWidth": 1},
         "encoding": {"x": {"datum": 0.559, "type": "quantitative", "scale": {"domain": [-1, 1], "nice": false, "zero": false}, "axis": null},
                      "y": {"datum": 0.829, "type": "quantitative", "scale": {"domain": [-1, 1], "nice": false, "zero": false}, "axis": null},
                      "x2": {"datum": 1.615}, "y2": {"datum": 0.835}}},
        {"mark": {"type": "rule", "color": "#9a9a9a", "strokeWidth": 1},
         "encoding": {"x": {"datum": 0.999, "type": "quantitative"}, "y": {"datum": 0.035, "type": "quantitative"},
                      "x2": {"datum": 1.615}, "y2": {"datum": 0.154}}},
        {"mark": {"type": "rule", "color": "#9a9a9a", "strokeWidth": 1},
         "encoding": {"x": {"datum": 0.999, "type": "quantitative"}, "y": {"datum": 0.035, "type": "quantitative"},
                      "x2": {"datum": 1.615}, "y2": {"datum": -0.055}}},
        {"mark": {"type": "rule", "color": "#9a9a9a", "strokeWidth": 1},
         "encoding": {"x": {"datum": 0.512, "type": "quantitative"}, "y": {"datum": -0.859, "type": "quantitative"},
                      "x2": {"datum": 1.615}, "y2": {"datum": -0.912}}},
        {"mark": {"type": "text", "text": "random pair", "fontSize": 28, "fontWeight": "bold", "align": "left", "baseline": "alphabetic", "color": "#262626"},
         "encoding": {"x": {"datum": -0.846, "type": "quantitative"}, "y": {"datum": 1.253, "type": "quantitative"}}}
       ]
      }
     ]
    }
   ]
  }
 ]
}
